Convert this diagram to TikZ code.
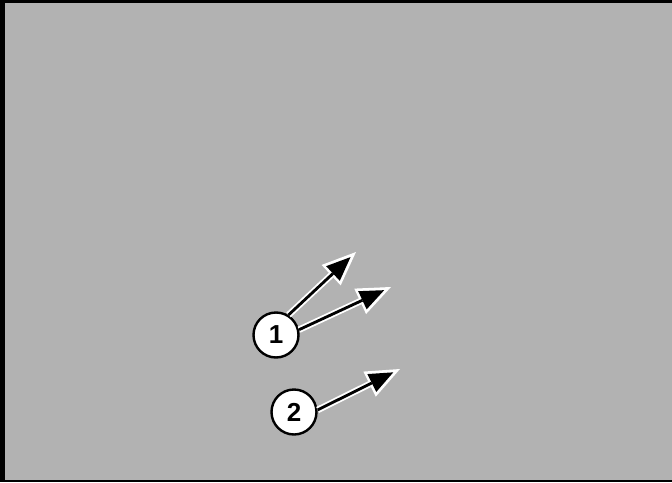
\documentclass[tikz,border=0pt]{standalone}
\usepackage{fontspec}
\setmainfont{Liberation Sans}
\usetikzlibrary{arrows.meta}
\begin{document}
\begin{tikzpicture}[x=1pt, y=-1pt,
  callout/.style={circle, draw=black, line width=2.4pt, fill=white, minimum size=45pt, inner sep=0pt, font=\fontsize{26}{26}\selectfont\bfseries},
  halo/.style={white, line width=6.5pt, -{Triangle[length=34pt, width=28pt, line width=0pt]}},
  pointer/.style={black, line width=2.8pt, shorten >=7.5pt, -{Triangle[length=24pt, width=20pt, line width=0pt]}}]
  % background and frame
  \fill[black!30] (0,0) rectangle (672,482);
  \fill[black] (0,0) rectangle (5,482);
  \fill[black] (0,0) rectangle (672,3);
  \fill[black] (0,479.5) rectangle (672,482);
  \useasboundingbox (0,0) rectangle (672,482);
  % free ends of the pointers
  \coordinate (t1a) at (356,252);
  \coordinate (t1b) at (391,287);
  \coordinate (t2) at (400,369);
  % callouts
  \node[callout] (c1) at (276,335) {1};
  \node[callout] (c2) at (294,412) {2};
  \draw[halo] (c1.58) -- (t1a);
  \draw[halo] (c1.13) -- (t1b);
  \draw[halo] (c2.5) -- (t2);
  \draw[pointer] (c1.58) -- (t1a);
  \draw[pointer] (c1.13) -- (t1b);
  \draw[pointer] (c2.5) -- (t2);
\end{tikzpicture}
\end{document}
